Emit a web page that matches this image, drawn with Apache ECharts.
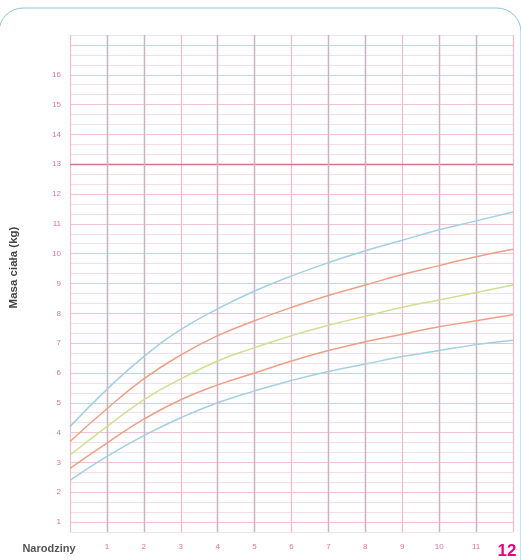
<!DOCTYPE html>
<html>
<head>
<meta charset="utf-8">
<script src="https://cdn.jsdelivr.net/npm/echarts@6/dist/echarts.min.js"></script>
<style>
html,body{margin:0;padding:0;background:#fff;}
#c{width:521px;height:560px;}
</style>
</head>
<body>
<div id="c"></div>
<script>
// months (0 = birth)
var months = [0,1,2,3,4,5,6,7,8,9,10,11,12];
// curves (kg)
var blueTop    = [4.2, 5.45, 6.55, 7.45, 8.15, 8.75, 9.25, 9.7, 10.1, 10.45, 10.8, 11.1, 11.4];
var orangeTop  = [3.7, 4.8, 5.8, 6.6, 7.25, 7.75, 8.2, 8.6, 8.95, 9.3, 9.6, 9.9, 10.15];
var greenMid   = [3.25, 4.2, 5.1, 5.8, 6.4, 6.85, 7.25, 7.6, 7.9, 8.2, 8.45, 8.7, 8.95];
var orangeLow  = [2.8, 3.65, 4.45, 5.1, 5.6, 6.0, 6.4, 6.75, 7.05, 7.3, 7.55, 7.75, 7.95];
var blueLow    = [2.4, 3.2, 3.9, 4.5, 5.0, 5.4, 5.75, 6.05, 6.3, 6.55, 6.75, 6.95, 7.1];
var xTickLabels = ['Narodziny','1','2','3','4','5','6','7','8','9','10','11','12'];
var darkMonths = [1,2,4,5,7,8,10,11];
var kgLines = [1,2,3,4,5,6,7,8,9,10,11,12,14,15,16,17];
var highlightLine = 13;
var yLabelMin = 1, yLabelMax = 16;

function pairs(arr){ return months.map(function(m,i){ return [m, arr[i]]; }); }

var chart = echarts.init(document.getElementById('c'), null, {renderer:'canvas'});
var pink = '#e2729a';
function curve(name, data, color){
  return {name:name, type:'line', data:pairs(data), smooth:0.5, showSymbol:false, symbol:'none',
    lineStyle:{color:color, width:1.5}, z:5, silent:true};
}
var series = [
  curve('bt', blueTop, '#a3cfe3'),
  curve('ot', orangeTop, '#eda088'),
  curve('gm', greenMid, '#cfdf93'),
  curve('ol', orangeLow, '#eda088'),
  curve('bl', blueLow, '#a3cfe3')
];
var mlData = [];
kgLines.forEach(function(v){ mlData.push({yAxis:v, lineStyle:{color:'#efc3d0', width:1}}); });
mlData.push({yAxis:highlightLine, lineStyle:{color:'#d5738f', width:1.3}});
darkMonths.forEach(function(m){ mlData.push({xAxis:m, lineStyle:{color:'#c7b6c6', width:1.4}}); });
series.push({type:'line', data:[], silent:true, z:2,
  markLine:{silent:true, symbol:'none', label:{show:false}, animation:false,
    lineStyle:{type:'solid'}, data:mlData}});

chart.setOption({
  backgroundColor:'#ffffff',
  animation:false,
  graphic:[{type:'rect', z:-10, shape:{x:-1, y:8, width:522, height:620, r:24},
    style:{fill:'none', stroke:'#8ec3dd', lineWidth:1}}],
  grid:{left:69, right:8, top:35, bottom:25, containLabel:false},
  xAxis:{type:'value', min:0, max:12, interval:1,
    axisLine:{show:false}, axisTick:{show:false},
    splitLine:{show:true, lineStyle:{color:'#eeb9c9', width:1.2}},
    axisLabel:{margin:11, color:pink, fontSize:8, fontFamily:'Liberation Sans',
      formatter:function(v){
        var i = Math.round(v);
        if (i === 0) return '{n|' + xTickLabels[0] + '}';
        if (i === 12) return '{b|' + xTickLabels[12] + '}';
        return xTickLabels[i];
      },
      rich:{
        n:{fontSize:11, fontWeight:'bold', color:'#555', fontFamily:'Liberation Sans', padding:[0,42,0,0]},
        b:{fontSize:17, fontWeight:'bold', color:'#e6007e', fontFamily:'Liberation Sans', padding:[0,12,0,0]}
      }
    }
  },
  yAxis:{type:'value', min:2/3, max:52/3, interval:1/3,
    name:'Masa ciała (kg)', nameLocation:'middle', nameGap:50, nameRotate:90,
    nameTextStyle:{color:'#444', fontSize:11.5, fontWeight:'bold', fontFamily:'Liberation Sans', padding:[0,0,0,32]},
    axisLine:{show:false}, axisTick:{show:false},
    splitLine:{show:true, lineStyle:{color:'#f6dfe6', width:1}},
    axisLabel:{margin:9, color:pink, fontSize:8, fontFamily:'Liberation Sans',
      formatter:function(v){
        var r = Math.round(v);
        if (Math.abs(v - r) < 0.01 && r >= yLabelMin && r <= yLabelMax) return String(r);
        return '';
      }
    }
  },
  series: series
});
</script>
</body>
</html>
